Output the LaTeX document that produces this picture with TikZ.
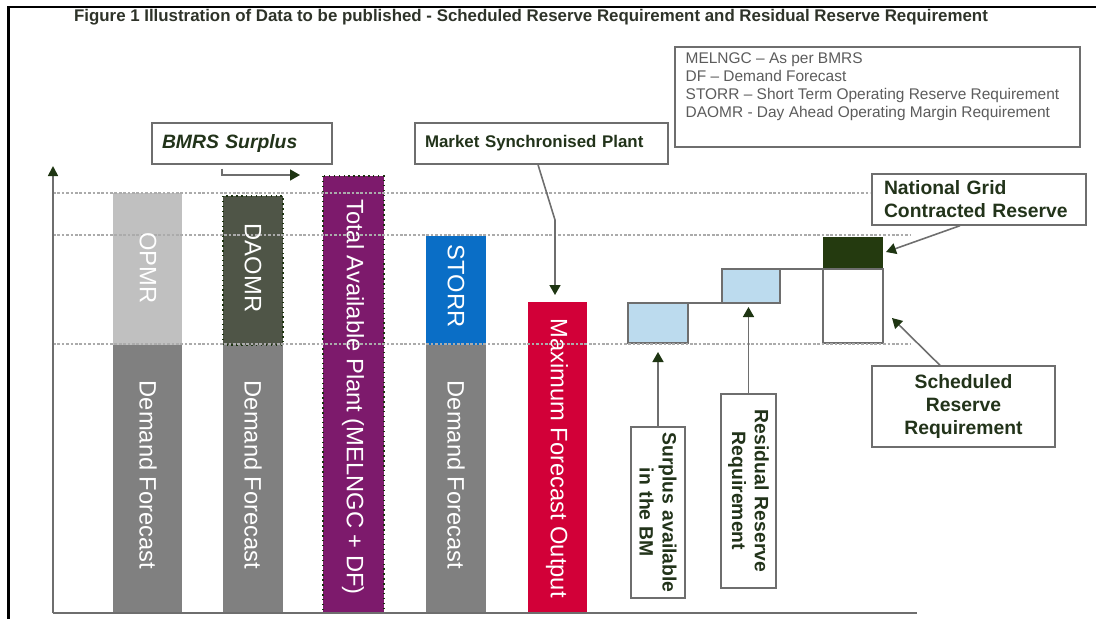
\documentclass[tikz,border=0pt]{standalone}
\usepackage{fontspec}
\setmainfont{Liberation Sans}
\usepackage{tikz}
\usetikzlibrary{positioning, arrows.meta}

\definecolor{opmrgrey}{HTML}{C0C0C0}
\definecolor{dfgrey}{HTML}{808080}
\definecolor{daomrfill}{HTML}{4F5547}
\definecolor{tapurple}{HTML}{7D1A6C}
\definecolor{storrblue}{HTML}{0A6EC6}
\definecolor{mfored}{HTML}{D20038}
\definecolor{lightblue}{HTML}{BCDBEE}
\definecolor{ngdark}{HTML}{243A0F}
\definecolor{linegrey}{HTML}{6E6E6E}
\definecolor{guidegrey}{HTML}{ABABAB}
\definecolor{tipgreen}{HTML}{1E3512}
\definecolor{calltext}{HTML}{22331A}
\definecolor{legendtext}{HTML}{5C5C5C}
\definecolor{titletext}{HTML}{2E3329}

\begin{document}
\begin{tikzpicture}[x=0.02cm, y=-0.02cm,
    guide/.style={draw=guidegrey, line width=0.6pt, dash pattern=on 1.5pt off 1pt},
    callout/.style={draw=linegrey, fill=white, line width=0.8pt, text=calltext,
        font=\fontsize{11}{13}\selectfont\bfseries},
    lead/.style={draw=linegrey, line width=0.9pt,
        -{Triangle[length=0.2cm, width=0.22cm, color=tipgreen]}},
    barlabel/.style={rotate=-90, text=white, font=\fontsize{13.5}{15}\selectfont}]

    \useasboundingbox (0,0) rectangle (1096,619);
    \draw[line width=1.7pt] (8.5,619) -- (8.5,7) -- (1096,7);

    \node[font=\fontsize{9.6}{11}\selectfont\bfseries, text=titletext] (title) at (531,17)
        {Figure 1 Illustration of Data to be published - Scheduled Reserve Requirement and Residual Reserve Requirement};

    % bars
    \foreach \xa/\xb/\ya/\yb/\col in {113/182/193/345/opmrgrey, 113/182/345/613/dfgrey,
        223/283/196/345/daomrfill, 223/283/345/613/dfgrey, 323/384/176/613/tapurple,
        426/486/236/345/storrblue, 426/486/345/613/dfgrey, 528/587/302/613/mfored,
        823/883/237/269/ngdark} {
        \fill[\col] (\xa,\ya) rectangle (\xb,\yb);
    }
    \draw[tipgreen, dotted, line width=0.8pt] (223,196) rectangle (283,345);
    \draw[tipgreen, dotted, line width=0.8pt] (323,176) rectangle (384,613);
    \draw[linegrey, fill=lightblue, line width=0.8pt] (628,303) rectangle (688,343);
    \draw[linegrey, fill=lightblue, line width=0.8pt] (722,269) rectangle (780,303);
    \draw[linegrey, line width=0.8pt] (823,269) rectangle (883,343);
    \draw[linegrey, line width=0.8pt] (688,303) -- (722,303);
    \draw[linegrey, line width=0.8pt] (780,269) -- (823,269);

    \draw[guide] (53,193) -- (870,193);
    \draw[guide] (53,235) -- (910,235);
    \draw[guide] (53,344) -- (910,344);

    \coordinate (origin) at (53,613);
    \coordinate (ytop) at (53,166);
    \coordinate (xend) at (917,613);
    \draw[linegrey, line width=1pt, -{Triangle[length=0.2cm, width=0.2cm, color=tipgreen]}] (origin) -- (ytop);
    \draw[linegrey, line width=1pt] (origin) -- (xend);

    \foreach \n/\x/\y/\t in {opmr/148/268/OPMR, dfa/148/475/Demand Forecast,
        daomr/253/268/DAOMR, dfb/253/475/Demand Forecast,
        tap/353/397/Total Available Plant (MELNGC + DF),
        storr/456/286/STORR, dfc/456/475/Demand Forecast,
        mfo/557/458/Maximum Forecast Output} {
        \node[barlabel] (\n) at (\x,\y) {\t};
    }

    % callouts
    \node[callout, font=\fontsize{11}{13}\selectfont\bfseries\itshape, minimum width=3.6cm,
        minimum height=0.82cm, text width=3.2cm, inner xsep=0.2cm, align=left]
        (bmrs) at (242,143.5) {BMRS Surplus};
    \node[callout, font=\fontsize{9.6}{11}\selectfont\bfseries, minimum width=5.06cm,
        minimum height=0.82cm, text width=4.66cm, inner xsep=0.2cm, align=left]
        (msp) at (541.5,143.5) {Market Synchronised Plant};
    \node[callout, minimum width=4.28cm, minimum height=1.02cm, text width=3.8cm,
        inner xsep=0.24cm, align=left] (ngc) at (979,199.5) {National Grid\\Contracted Reserve};
    \node[callout, minimum width=3.66cm, minimum height=1.62cm, text width=3.2cm,
        align=center] (srr) at (963.5,406.5) {Scheduled\\Reserve\\Requirement};
    \node[callout, rotate=-90, minimum width=3.42cm, minimum height=1.08cm, text width=3.3cm,
        inner xsep=0.06cm, inner ysep=0.05cm, align=center] (sab) at (658,512.5) {Surplus available\\in the BM};
    \node[callout, rotate=-90, minimum width=3.88cm, minimum height=1.1cm, text width=3.5cm,
        inner ysep=0.05cm, align=center] (rrr) at (748.5,491) {Residual Reserve\\Requirement};

    \node[callout, minimum width=8.1cm, minimum height=2cm] (legend) at (877.5,97) {};
    \node[anchor=north west, inner sep=0pt, align=left, text=legendtext,
        font=\fontsize{8.8}{10.2}\selectfont] (legendtxt) at ([xshift=0.22cm, yshift=-0.13cm]legend.north west)
        {MELNGC -- As per BMRS\\DF -- Demand Forecast\\STORR -- Short Term Operating Reserve Requirement\\DAOMR - Day Ahead Operating Margin Requirement};

    \coordinate (bmrstip) at (300,175);
    \coordinate (mspbend) at (555,220);
    \coordinate (msptip) at (555,295);
    \coordinate (ngctip) at (886,252);
    \coordinate (srrtip) at (892,318);
    \coordinate (sabtip) at (658,352);
    \coordinate (rrrtip) at (748.5,307);
    \draw[lead] ([xshift=-0.4cm, yshift=-0.08cm]bmrs.south) |- (bmrstip);
    \draw[lead] ([xshift=-0.07cm]msp.south) -- (mspbend) -- (msptip);
    \draw[lead] ([xshift=-0.38cm]ngc.south) -- (ngctip);
    \draw[lead] ([xshift=-0.47cm]srr.north) -- (srrtip);
    \draw[lead] (sab.west) -- (sabtip);
    \draw[lead] (rrr.west) -- (rrrtip);
\end{tikzpicture}
\end{document}
